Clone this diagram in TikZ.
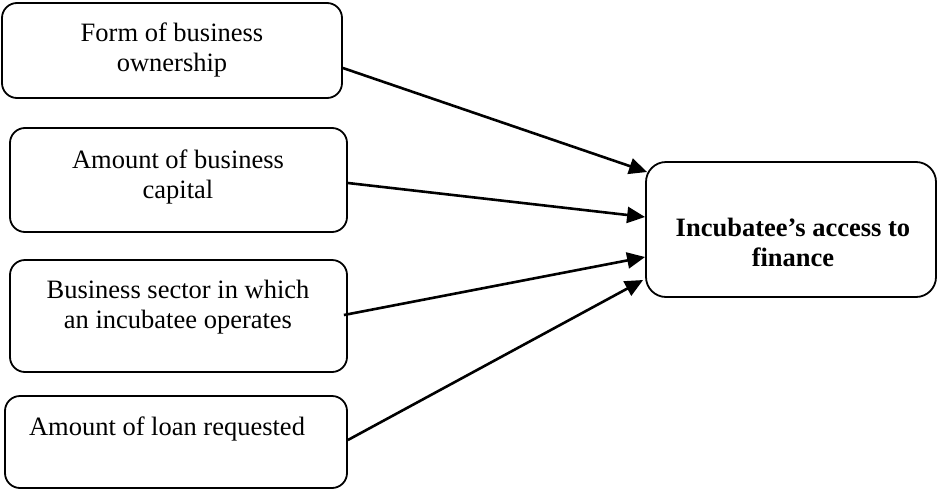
\documentclass[tikz,border=0pt]{standalone}
\usepackage{fontspec}
\setmainfont{Liberation Serif}
\usetikzlibrary{calc,arrows.meta}

\tikzset{
  factor/.style={draw=black, line width=1.8pt, rounded corners=15pt, inner sep=0pt},
  outcome/.style={draw=black, line width=1.8pt, rounded corners=20pt, inner sep=0pt},
  label/.style={align=center, inner sep=0pt, font=\fontsize{26.5}{30}\selectfont},
  link/.style={line width=2.6pt, -{Triangle[length=18pt,width=16pt]}}
}

\begin{document}
\begin{tikzpicture}[x=1pt, y=-1pt]
  \useasboundingbox (0,0) rectangle (940,490);

  % factor boxes on the left
  \node[factor, minimum width=340pt, minimum height=95pt]  (b1) at (172,50.5) {};
  \node[factor, minimum width=337pt, minimum height=104pt] (b2) at (178.5,180) {};
  \node[factor, minimum width=337pt, minimum height=112pt] (b3) at (178.5,316) {};
  \node[factor, minimum width=342pt, minimum height=92pt]  (b4) at (176,442) {};

  % outcome box on the right
  \node[outcome, minimum width=290pt, minimum height=135pt] (r) at (791,229.5) {};

  % box texts
  \node[label] (t1) at (172,50)  {Form of business\\ownership};
  \node[label] (t2) at (178,177) {Amount of business\\capital};
  \node[label] (t3) at (178,307) {Business sector in which\\an incubatee operates};
  \node[label] (t4) at (167,429) {Amount of loan requested};
  \node[label, font=\fontsize{26.5}{30}\bfseries] (t5) at (793,242) {Incubatee’s access to\\finance};

  % connectors
  \draw[link] ($(b1.east)+(0,17.5)$) -- ($(r.west)+(2,-57.5)$);
  \draw[link] ($(b2.east)+(0,3)$)    -- ($(r.west)+(0,-12.5)$);
  \draw[link] ($(b3.east)+(-4,-1)$)  -- ($(r.west)+(0,27.5)$);
  \draw[link] ($(b4.east)+(0,-2)$)   -- ($(r.west)+(-2,50.5)$);
\end{tikzpicture}
\end{document}
